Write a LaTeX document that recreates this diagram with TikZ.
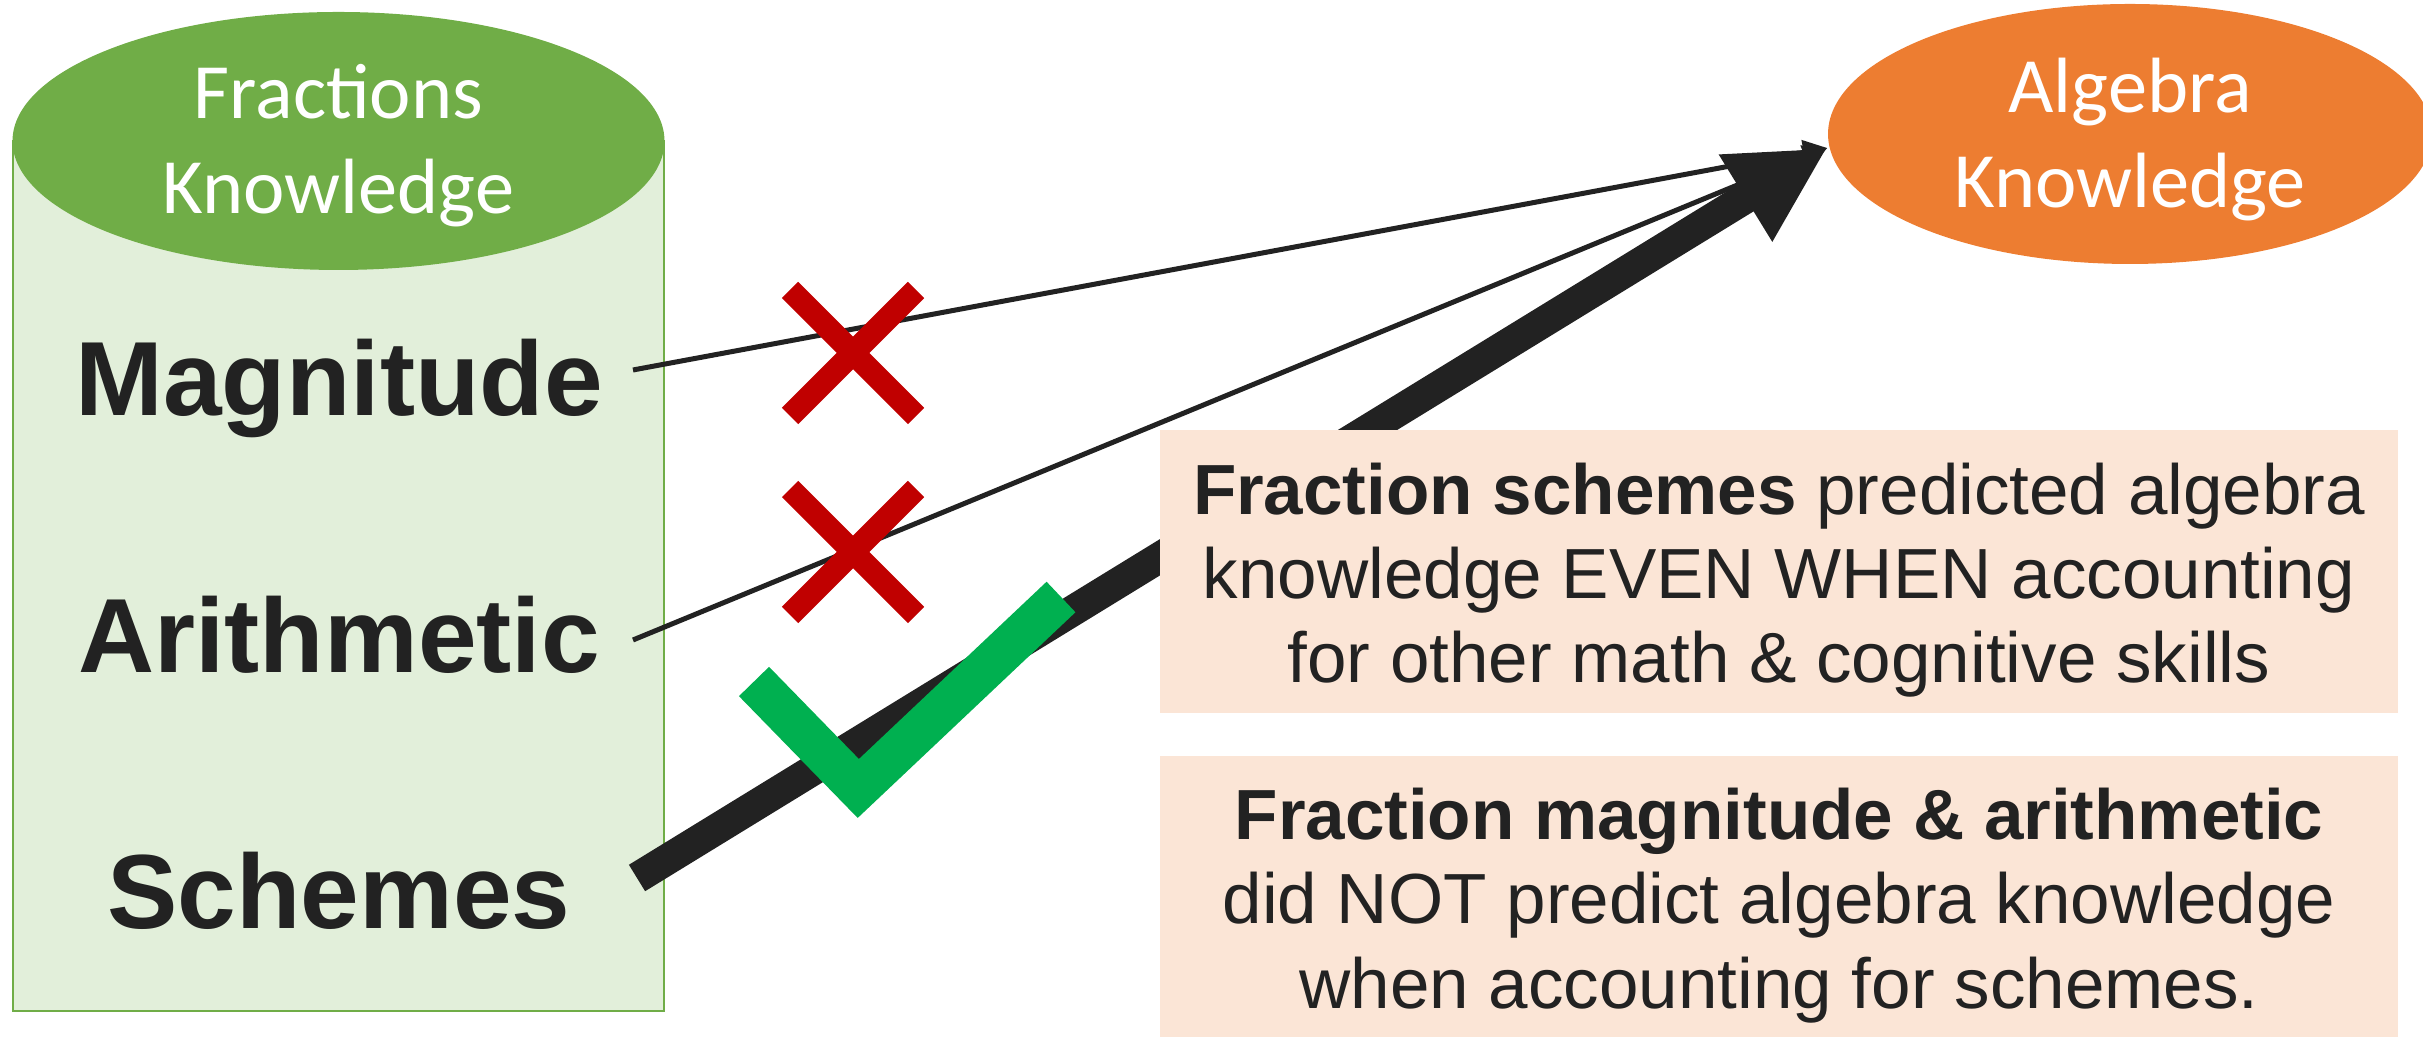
\documentclass[tikz,border=0pt]{standalone}
\usepackage{fontspec}
\setmainfont{Liberation Sans}
\newfontfamily\calibri{Carlito}
\usepackage{xcolor}
\usetikzlibrary{arrows.meta,calc,positioning,shapes.geometric}
\definecolor{fracgreen}{HTML}{70AD47}
\definecolor{bodyfill}{HTML}{E2EFDA}
\definecolor{algorange}{HTML}{ED7D31}
\definecolor{notefill}{HTML}{FBE5D6}
\definecolor{inkdark}{HTML}{222222}
\definecolor{crossred}{HTML}{C00000}
\definecolor{tickgreen}{HTML}{00B050}

\begin{document}
\begin{tikzpicture}[
lbl/.style={anchor=base, inner sep=0pt, text=inkdark, font=\fontsize{30}{36}\selectfont\bfseries},
oval/.style={ellipse, inner sep=0pt, align=center, text=white, font=\calibri\fontsize{22.3}{27}\selectfont},
notebox/.style={fill=notefill, minimum width=12.38cm, minimum height=2.83cm, inner sep=0pt, align=center, text=inkdark, font=\fontsize{20.2}{24}\selectfont},
thinarr/.style={-{Triangle[length=0.24cm,width=0.24cm]}, line width=0.05cm, inkdark},
thickarr/.style={-{Triangle[length=0.96cm,width=0.95cm]}, line width=0.31cm, inkdark},
xmark/.style={line width=0.23cm, crossred},
tickmark/.style={line width=0.42cm, tickgreen, miter limit=4}
]
\useasboundingbox (0,0) rectangle (24.23,10.37);

% fractions cylinder and algebra oval
\node[draw=fracgreen, fill=bodyfill, line width=0.6pt, minimum width=6.51cm, minimum height=8.70cm, inner sep=0pt] (fracbody) at (3.385,4.61) {};
\node[oval, fill=fracgreen, minimum width=6.52cm, minimum height=2.58cm] (fractop) at (3.385,8.96) {\rule{0pt}{18.1pt}Fractions\\Knowledge};
\node[oval, fill=algorange, minimum width=6.04cm, minimum height=2.60cm] (algebra) at (21.30,9.03) {\rule{0pt}{18.4pt}Algebra\\Knowledge};

\node[lbl] (magnitude) at (3.39,6.21) {Magnitude};
\node[lbl] (arithmetic) at (3.39,3.64) {Arithmetic};
\node[lbl] (schemes) at (3.39,1.08) {Schemes};

\coordinate (magout) at (6.33,6.67);
\coordinate (arithout) at (6.33,3.97);
\coordinate (schemout) at (6.37,1.59);
\coordinate (tip) at ($(algebra.west)+(0,-0.14)$);

\draw[thinarr] (magout) -- (tip);
\draw[thinarr] (arithout) -- (tip);
\draw[thickarr] (schemout) -- (tip);

% marks
\foreach \y in {6.84,4.85}
  \draw[xmark] (7.90,{\y-0.63}) -- (9.16,{\y+0.63}) (7.90,{\y+0.63}) -- (9.16,{\y-0.63});
\draw[tickmark] (7.54,3.555) -- (8.583,2.485) -- (10.61,4.40);

% findings
\node[notebox] (findA) at (17.79,4.65) {\rule{0pt}{19.3pt}\textbf{Fraction schemes} predicted algebra\\knowledge EVEN WHEN accounting\\for other math \& cognitive skills};
\node[notebox, below=0.41cm of findA] (findB) {\rule{0pt}{19.3pt}\textbf{Fraction magnitude \& arithmetic}\\did NOT predict algebra knowledge\\when accounting for schemes.};
\end{tikzpicture}
\end{document}
